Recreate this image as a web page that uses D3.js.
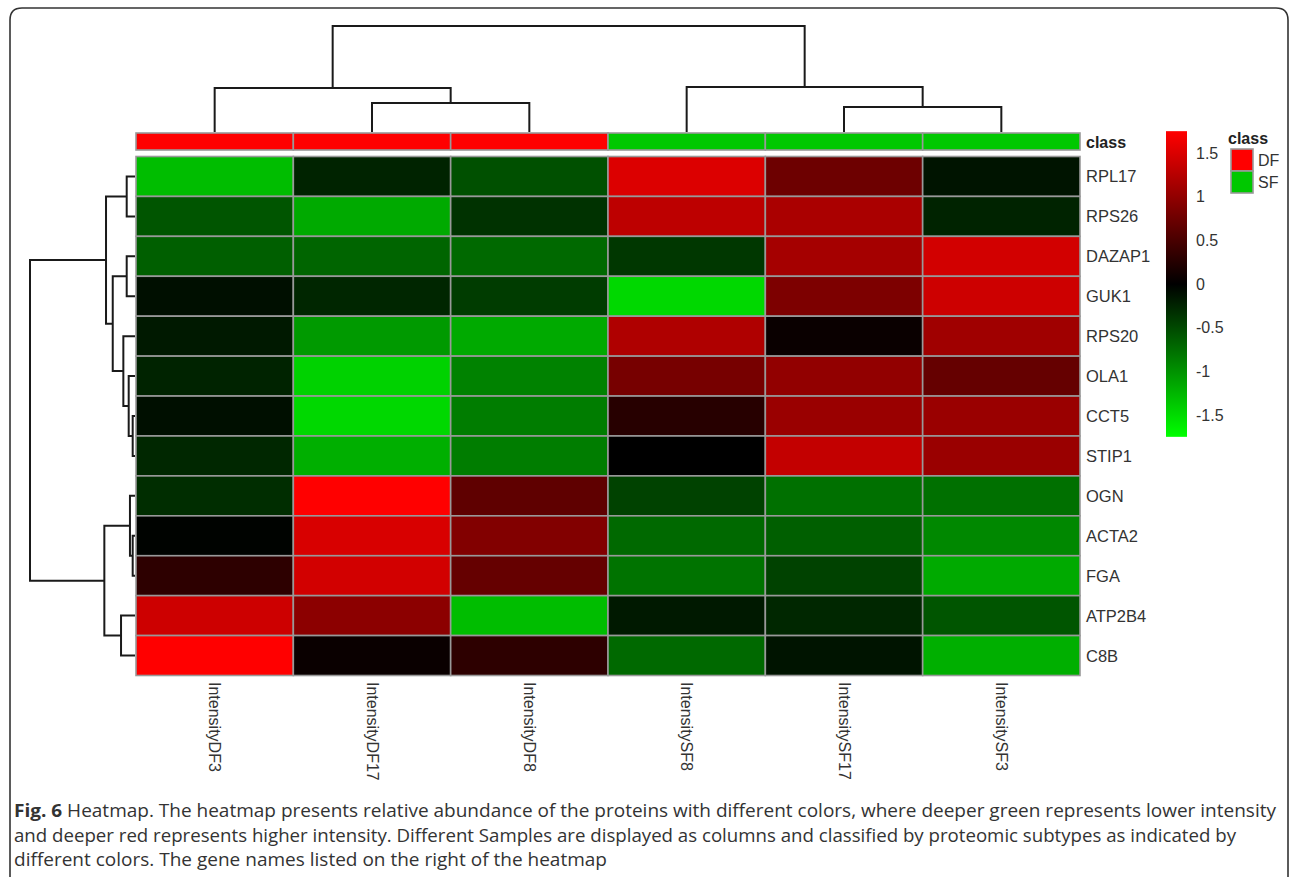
<!DOCTYPE html>
<html>
<head>
<meta charset="utf-8">
<script src="https://cdn.jsdelivr.net/npm/d3@7"></script>
<style>
  body { margin: 0; background: #fff; }
  svg { display: block; }
</style>
</head>
<body>
<svg id="chart" width="1293" height="877"></svg>
<script>
// samples (columns) in dendrogram order
const samples = ["IntensityDF3", "IntensityDF17", "IntensityDF8", "IntensitySF8", "IntensitySF17", "IntensitySF3"];
const sampleClass = ["DF", "DF", "DF", "SF", "SF", "SF"];
// genes (rows) in dendrogram order
const genes = ["RPL17", "RPS26", "DAZAP1", "GUK1", "RPS20", "OLA1", "CCT5", "STIP1", "OGN", "ACTA2", "FGA", "ATP2B4", "C8B"];

// scaled intensity, one array per gene, same order as samples
const RPL17  = [-1.30, -0.24, -0.55,  1.51,  0.75, -0.14];
const RPS26  = [-0.58, -1.17, -0.34,  1.30,  1.17, -0.24];
const DAZAP1 = [-0.65, -0.69, -0.72, -0.38,  1.13,  1.44];
const GUK1   = [-0.10, -0.26, -0.41, -1.48,  0.86,  1.41];
const RPS20  = [-0.17, -1.06, -1.17,  1.20,  0.07,  1.10];
const OLA1   = [-0.24, -1.44, -0.89,  0.82,  1.00,  0.69];
const CCT5   = [-0.10, -1.48, -0.86,  0.27,  1.06,  1.06];
const STIP1  = [-0.27, -1.20, -0.86,  0.00,  1.34,  1.06];
const OGN    = [-0.31,  1.75,  0.65, -0.45, -0.77, -0.77];
const ACTA2  = [-0.02,  1.48,  0.89, -0.72, -0.65, -0.93];
const FGA    = [ 0.31,  1.44,  0.69, -0.79, -0.45, -1.17];
const ATP2B4 = [ 1.41,  0.96, -1.30, -0.17, -0.27, -0.58];
const C8B    = [ 1.75,  0.07,  0.31, -0.72, -0.14, -1.20];
const values = [RPL17, RPS26, DAZAP1, GUK1, RPS20, OLA1, CCT5, STIP1, OGN, ACTA2, FGA, ATP2B4, C8B];

// hclust style merges: negative = leaf (1-based), positive = earlier merge step
const colMerge = [[-2, -3], [-5, -6], [-1, 1], [-4, 2], [3, 4]];
const colHeight = [2.74, 2.36, 4.15, 4.25, 10];
const rowMerge = [[-7, -8], [-10, -11], [-9, 2], [-6, 1], [-1, -2], [-3, -4], [-5, 4], [-12, -13], [6, 7], [5, 9], [3, 8], [10, 11]];
const rowHeight = [0.22, 0.22, 0.48, 0.60, 0.79, 0.79, 1.11, 1.33, 2.12, 2.76, 2.92, 10];

const legendTicks = [1.5, 1, 0.5, 0, -0.5, -1, -1.5];
const classNames = ["DF", "SF"];
const classColors = ["#ff0000", "#00c800"];

const captionLines = [
  ["Fig. 6", " Heatmap. The heatmap presents relative abundance of the proteins with different colors, where deeper green represents lower intensity"],
  ["", "and deeper red represents higher intensity. Different Samples are displayed as columns and classified by proteomic subtypes as indicated by"],
  ["", "different colors. The gene names listed on the right of the heatmap"]
];
const captionWidths = [1262, 1222, 593];

const svg = d3.select("#chart");
const labelFont = "'Liberation Sans', Arial, sans-serif";

// frame
svg.append("path")
    .attr("d", "M10,880 V20 Q10,8 22,8 H1276 Q1288,8 1288,20 V880")
    .attr("fill", "none")
    .attr("stroke", "#333")
    .attr("stroke-width", 1.6);

// scales
const x = d3.scaleBand().domain(samples).range([136, 1080]);
const y = d3.scaleBand().domain(genes).range([156.5, 675.5]);
const vmax = 1.75;
const color = d3.scaleLinear().domain([-vmax, 0, vmax]).range(["#00ff00", "#000000", "#ff0000"]);
const classColor = d3.scaleOrdinal().domain(classNames).range(classColors);

// heatmap cells
const cells = [];
values.forEach((row, i) => row.forEach((v, j) => cells.push({ gene: genes[i], sample: samples[j], value: v })));

svg.append("g").selectAll("rect")
    .data(cells)
    .enter()
    .append("rect")
    .attr("x", d => x(d.sample))
    .attr("y", d => y(d.gene))
    .attr("width", x.bandwidth())
    .attr("height", y.bandwidth())
    .style("fill", d => color(d.value))
    .style("stroke", "#999")
    .style("stroke-width", "1.6px");

// class annotation bar
svg.append("g").selectAll("rect")
    .data(samples)
    .enter()
    .append("rect")
    .attr("x", d => x(d))
    .attr("y", 133)
    .attr("width", x.bandwidth())
    .attr("height", 17)
    .style("fill", (d, i) => classColor(sampleClass[i]))
    .style("stroke", "#999")
    .style("stroke-width", "1.6px");

svg.append("text")
    .attr("x", 1086)
    .attr("y", 142)
    .attr("dominant-baseline", "central")
    .style("font-family", labelFont)
    .style("font-size", "16px")
    .style("font-weight", "bold")
    .style("fill", "#222")
    .text("class");

// row labels
svg.append("g").selectAll("text")
    .data(genes)
    .enter()
    .append("text")
    .attr("x", 1086)
    .attr("y", d => y(d) + y.bandwidth() / 2)
    .attr("dominant-baseline", "central")
    .style("font-family", labelFont)
    .style("font-size", "16.5px")
    .style("fill", "#333")
    .text(d => d);

// column labels, rotated
svg.append("g").selectAll("text")
    .data(samples)
    .enter()
    .append("text")
    .attr("transform", d => `translate(${x(d) + x.bandwidth() / 2},682) rotate(90)`)
    .attr("dominant-baseline", "central")
    .style("font-family", labelFont)
    .style("font-size", "16px")
    .style("fill", "#333")
    .text(d => d);

// dendrograms
function dendroSegments(merge, heights, leafPos) {
    const pos = [], segs = [];
    const get = k => k < 0 ? { p: leafPos[-k - 1], h: 0 } : { p: pos[k - 1], h: heights[k - 1] };
    merge.forEach((m, i) => {
        const a = get(m[0]), b = get(m[1]), h = heights[i];
        pos.push((a.p + b.p) / 2);
        segs.push({ a, b, h });
    });
    return segs;
}

const colH = d3.scaleLinear().domain([0, 10]).range([132, 26]);
const colSegs = dendroSegments(colMerge, colHeight, samples.map(s => x(s) + x.bandwidth() / 2));
svg.append("g").selectAll("path")
    .data(colSegs)
    .enter()
    .append("path")
    .attr("d", s => `M${s.a.p},${colH(s.a.h)}V${colH(s.h)}H${s.b.p}V${colH(s.b.h)}`)
    .attr("fill", "none")
    .attr("stroke", "#1a1a1a")
    .attr("stroke-width", 2);

const rowH = d3.scaleLinear().domain([0, 10]).range([135, 30]);
const rowSegs = dendroSegments(rowMerge, rowHeight, genes.map(g => y(g) + y.bandwidth() / 2));
svg.append("g").selectAll("path")
    .data(rowSegs)
    .enter()
    .append("path")
    .attr("d", s => `M${rowH(s.a.h)},${s.a.p}H${rowH(s.h)}V${s.b.p}H${rowH(s.b.h)}`)
    .attr("fill", "none")
    .attr("stroke", "#1a1a1a")
    .attr("stroke-width", 2);

// colour legend
const legendY = d3.scaleLinear().domain([-1.5, 1.5]).range([415, 153]);
const grad = svg.append("defs").append("linearGradient")
    .attr("id", "legendGrad")
    .attr("x1", 0).attr("y1", 1).attr("x2", 0).attr("y2", 0);
grad.selectAll("stop")
    .data([-vmax, 0, vmax])
    .enter()
    .append("stop")
    .attr("offset", (d, i) => i / 2)
    .attr("stop-color", d => color(d));

svg.append("rect")
    .attr("x", 1166)
    .attr("y", legendY(vmax))
    .attr("width", 21)
    .attr("height", legendY(-vmax) - legendY(vmax))
    .style("fill", "url(#legendGrad)");

svg.append("g").selectAll("text")
    .data(legendTicks)
    .enter()
    .append("text")
    .attr("x", 1196)
    .attr("y", d => legendY(d))
    .attr("dominant-baseline", "central")
    .style("font-family", labelFont)
    .style("font-size", "16px")
    .style("fill", "#333")
    .text(d => d);

// class legend
svg.append("text")
    .attr("x", 1228)
    .attr("y", 138)
    .attr("dominant-baseline", "central")
    .style("font-family", labelFont)
    .style("font-size", "16px")
    .style("font-weight", "bold")
    .style("fill", "#222")
    .text("class");

const classLegend = svg.append("g").selectAll("g")
    .data(classNames)
    .enter()
    .append("g")
    .attr("transform", (d, i) => `translate(1231,${149 + i * 22})`);
classLegend.append("rect")
    .attr("width", 22)
    .attr("height", 22)
    .style("fill", d => classColor(d))
    .style("stroke", "#999")
    .style("stroke-width", "1.6px");
classLegend.append("text")
    .attr("x", 27)
    .attr("y", 11)
    .attr("dominant-baseline", "central")
    .style("font-family", labelFont)
    .style("font-size", "16px")
    .style("fill", "#333")
    .text(d => d);

// caption
const caption = svg.append("g").selectAll("text")
    .data(captionLines)
    .enter()
    .append("text")
    .attr("x", 14)
    .attr("y", (d, i) => 817 + i * 24.5)
    .attr("textLength", (d, i) => captionWidths[i])
    .attr("lengthAdjust", "spacingAndGlyphs")
    .style("font-family", "'Open Sans', 'Noto Sans', sans-serif")
    .style("font-size", "18px")
    .style("fill", "#333");
caption.append("tspan")
    .style("font-weight", "bold")
    .text(d => d[0]);
caption.append("tspan")
    .text(d => d[1]);
</script>
</body>
</html>
